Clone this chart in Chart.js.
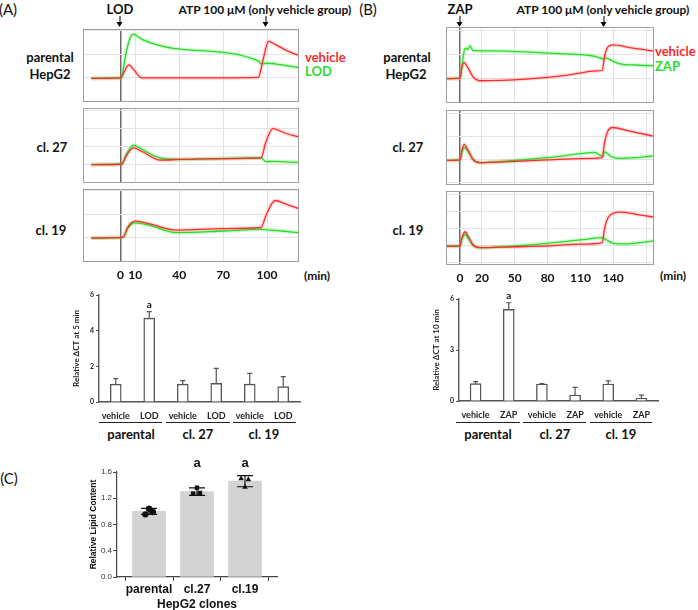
<!DOCTYPE html>
<html>
<head>
<meta charset="utf-8">
<script src="https://cdn.jsdelivr.net/npm/chart.js@4.4.1/dist/chart.umd.min.js"></script>
<style>
body{margin:0;width:698px;height:610px;overflow:hidden;background:#fff;position:relative;font-family:Lato,"Open Sans",sans-serif;color:#111}
canvas{position:absolute}
.t{position:absolute;white-space:nowrap;line-height:1;font-weight:bold;transform:translate(-50%,-50%)}
.l{position:absolute;white-space:nowrap;line-height:1;font-weight:bold;transform:translateY(-50%)}
.pl{position:absolute;font-size:15px;font-weight:normal;transform:translate(-50%,-50%);line-height:1}
.arr{position:absolute;width:0;height:8px;border-left:1.5px solid #000;transform:translateX(-50%)}
.arr:after{content:"";position:absolute;left:-4px;top:6px;border-left:3.3px solid transparent;border-right:3.3px solid transparent;border-top:5px solid #000}
.ul{position:absolute;height:0;border-top:1.5px solid #222}
</style>
</head>
<body>
<!-- panel A texts -->
<div class="pl" style="left:8px;top:9px">(A)</div>
<div class="t" style="left:120px;top:9px;font-size:13px">LOD</div>
<div class="arr" style="left:120px;top:16px"></div>
<div class="t" style="left:265px;top:10px;font-size:12px">ATP 100 μM (only vehicle group)</div>
<div class="arr" style="left:266px;top:16px"></div>
<div class="t" style="left:50px;top:57px;font-size:13px">parental</div>
<div class="t" style="left:50px;top:74px;font-size:13px">HepG2</div>
<div class="t" style="left:52px;top:147px;font-size:13px">cl. 27</div>
<div class="t" style="left:51px;top:230px;font-size:13px">cl. 19</div>
<div class="l" style="left:305px;top:57px;font-size:13px;color:#ff2a2a">vehicle</div>
<div class="l" style="left:305px;top:71px;font-size:13px;color:#2ddb2d">LOD</div>
<div class="t" style="left:317px;top:276px;font-size:12px">(min)</div>

<!-- panel B texts -->
<div class="pl" style="left:368px;top:9px">(B)</div>
<div class="t" style="left:460px;top:9px;font-size:13px">ZAP</div>
<div class="arr" style="left:460px;top:16px"></div>
<div class="t" style="left:603px;top:10px;font-size:12px">ATP 100 μM (only vehicle group)</div>
<div class="arr" style="left:604px;top:16px"></div>
<div class="t" style="left:407px;top:57px;font-size:13px">parental</div>
<div class="t" style="left:406px;top:74px;font-size:13px">HepG2</div>
<div class="t" style="left:408px;top:147px;font-size:13px">cl. 27</div>
<div class="t" style="left:408px;top:230px;font-size:13px">cl. 19</div>
<div class="l" style="left:655px;top:51px;font-size:13px;color:#ff2a2a">vehicle</div>
<div class="l" style="left:655px;top:66px;font-size:13px;color:#2ddb2d">ZAP</div>
<div class="t" style="left:673px;top:276px;font-size:12px">(min)</div>

<!-- bar group labels -->
<div class="ul" style="left:99px;width:63px;top:422px"></div>
<div class="ul" style="left:166px;width:64px;top:422px"></div>
<div class="ul" style="left:233px;width:63px;top:422px"></div>
<div class="t" style="left:131px;top:434px;font-size:13px">parental</div>
<div class="t" style="left:198px;top:434px;font-size:13px">cl. 27</div>
<div class="t" style="left:264px;top:434px;font-size:13px">cl. 19</div>
<div class="ul" style="left:456px;width:64px;top:422px"></div>
<div class="ul" style="left:523px;width:63px;top:422px"></div>
<div class="ul" style="left:590px;width:62px;top:422px"></div>
<div class="t" style="left:488px;top:434px;font-size:13px">parental</div>
<div class="t" style="left:555px;top:434px;font-size:13px">cl. 27</div>
<div class="t" style="left:621px;top:434px;font-size:13px">cl. 19</div>

<div class="pl" style="left:9px;top:478px">(C)</div>

<canvas id="a1" width="216" height="73" style="left:83px;top:29px"></canvas>
<canvas id="a2" width="216" height="75" style="left:83px;top:108px"></canvas>
<canvas id="a3" width="216" height="94" style="left:83px;top:189px"></canvas>
<canvas id="b1" width="208" height="76" style="left:446px;top:27px"></canvas>
<canvas id="b2" width="208" height="75" style="left:446px;top:110px"></canvas>
<canvas id="b3" width="208" height="95" style="left:446px;top:191px"></canvas>
<canvas id="barA" width="233" height="134" style="left:69px;top:286px"></canvas>
<canvas id="barB" width="231" height="129" style="left:429px;top:290px"></canvas>
<canvas id="barC" width="194" height="163" style="left:87px;top:450px"></canvas>

<script>
// LOD experiment (A): time in min, normalized cell index
var lodParVehT = [-20, 0, 2, 5.8, 9, 14.5, 40, 70, 94, 97, 101, 106, 112, 121.5];
var lodParVehY = [-0.02, 0, 0.2, 0.55, 0.35, 0, 0, 0, 0.02, 0.7, 1.55, 1.4, 1.2, 0.95];
var lodParLodT = [-20, 0, 1, 3, 6, 8.6, 15, 25, 36, 94, 96, 100, 110, 121.5];
var lodParLodY = [-0.02, 0, 0.05, 0.8, 1.6, 1.85, 1.62, 1.4, 1.25, 0.72, 0.6, 0.62, 0.55, 0.44];
var lod27VehT = [-20, 0, 1, 4, 8.8, 15, 27, 40, 70, 96, 99, 104, 112, 121.5];
var lod27VehY = [-0.02, 0, 0.02, 0.5, 0.92, 0.7, 0.23, 0.27, 0.32, 0.36, 1.2, 2.0, 1.75, 1.54];
var lod27LodT = [-20, 0, 1, 4, 8.7, 15, 27, 40, 70, 96, 99, 105, 121.5];
var lod27LodY = [-0.02, 0, 0.02, 0.55, 1.07, 0.82, 0.35, 0.27, 0.32, 0.36, 0.15, 0.16, 0.1];
var lod19VehT = [-20, 0, 2, 5, 10, 20, 38, 70, 96, 99, 105.5, 112, 121.5];
var lod19VehY = [-0.02, 0, 0.03, 0.45, 0.7, 0.58, 0.32, 0.38, 0.43, 0.9, 1.58, 1.45, 1.23];
var lod19LodT = [-20, 0, 2, 5, 10, 20, 38, 70, 96, 100, 110, 121.5];
var lod19LodY = [-0.02, 0, 0.03, 0.4, 0.63, 0.52, 0.21, 0.28, 0.35, 0.33, 0.28, 0.21];

// ZAP experiment (B)
var zapParVehT = [-12, 0, 1.5, 3.7, 7, 12, 18, 60, 100, 125, 130, 132, 135, 140, 155, 177];
var zapParVehY = [-0.02, 0, 0.4, 0.65, 0.45, 0.05, -0.11, -0.04, 0.14, 0.3, 0.33, 0.9, 1.3, 1.39, 1.28, 1.14];
var zapParZapT = [-12, 0, 2, 4.6, 7, 9, 12, 30, 80, 121, 128, 131, 133, 140, 146, 160, 177];
var zapParZapY = [-0.02, 0, 0.6, 1.25, 1.2, 1.35, 1.15, 1.14, 1.05, 0.93, 0.85, 0.8, 0.85, 0.7, 0.6, 0.55, 0.52];
var zap27VehT = [-12, 0, 1.5, 3.7, 7, 12, 18, 50, 80, 110, 130, 132, 135, 139, 155, 176];
var zap27VehY = [-0.02, 0, 0.35, 0.68, 0.45, 0.02, -0.12, -0.06, 0, 0.06, 0.1, 0.75, 1.25, 1.41, 1.25, 1.04];
var zap27ZapT = [-12, 0, 1.5, 3.7, 7, 12, 18, 50, 80, 110, 123, 130, 132, 138, 145, 160, 176];
var zap27ZapY = [-0.02, 0, 0.3, 0.54, 0.4, 0, -0.12, -0.02, 0.1, 0.27, 0.33, 0.17, 0.35, 0.15, 0.07, 0.1, 0.17];
var zap19VehT = [-12, 0, 1.5, 4.6, 8, 12, 18, 50, 80, 110, 130, 132, 136, 146, 160, 178];
var zap19VehY = [-0.02, 0, 0.4, 0.83, 0.5, 0.05, -0.1, -0.05, 0, 0.1, 0.19, 1.0, 1.73, 1.98, 1.87, 1.67];
var zap19ZapT = [-12, 0, 1.5, 4.6, 8, 12, 18, 50, 80, 110, 130, 132, 140, 150, 178];
var zap19ZapY = [-0.02, 0, 0.35, 0.67, 0.4, 0.02, -0.1, 0, 0.15, 0.35, 0.48, 0.42, 0.15, 0.12, 0.3];

// x grid / tick labels
var lodGrid = [0, 10, 40, 70, 100];
var lodTicks = [0, 10, 40, 70, 100];
var zapGrid = [0, 20, 50, 80, 110, 140, 170];
var zapTicks = [0, 20, 50, 80, 110, 140];

// relative dCT bars
var ctCatsA = ["vehicle", "LOD", "vehicle", "LOD", "vehicle", "LOD"];
var ctA = [1.0, 4.7, 1.0, 1.04, 1.0, 0.86];
var ctAErr = [0.31, 0.37, 0.2, 0.84, 0.6, 0.56];
var ctCatsB = ["vehicle", "ZAP", "vehicle", "ZAP", "vehicle", "ZAP"];
var ctB = [1.02, 5.39, 1.0, 0.35, 1.0, 0.16];
var ctBErr = [0.12, 0.39, 0.03, 0.45, 0.18, 0.19];
var sigCt = ["", "a", "", "", "", ""];

// lipid content (C)
var lipidCats = ["parental", "cl.27", "cl.19"];
var lipidMean = [1.0, 1.3, 1.46];
var lipidSd = [0.045, 0.057, 0.085];
var lipidSig = ["", "a", "a"];
var lipidPar = [1.04, 0.955, 0.99];
var lipid27 = [1.36, 1.27, 1.28];
var lipid19 = [1.5, 1.485, 1.37];
var jitPar = [0, -0.075, 0.08];
var jit27 = [0, -0.08, 0.06];
var jit19 = [-0.08, 0.07, 0];

var RED = "#ff2a2a", GREEN = "#26dc26";

var framePlugin = {
  id: "frame",
  afterDraw: function (chart) {
    var a = chart.chartArea, c = chart.ctx;
    c.save();
    c.strokeStyle = "#a0a0a0";
    c.lineWidth = 1;
    c.strokeRect(a.left + 0.5, a.top + 0.5, a.right - a.left - 1, a.bottom - a.top - 1);
    c.restore();
  }
};

var errPlugin = {
  id: "err",
  afterDatasetsDraw: function (chart) {
    var c = chart.ctx, ys = chart.scales.y;
    chart.data.datasets.forEach(function (ds, di) {
      if (!ds.errs) return;
      chart.getDatasetMeta(di).data.forEach(function (el, i) {
        var v = typeof ds.data[i] === "number" ? ds.data[i] : ds.data[i].y;
        var top = ys.getPixelForValue(v + ds.errs[i]);
        var bot = ys.getPixelForValue(ds.both ? v - ds.errs[i] : v);
        c.save();
        c.strokeStyle = ds.errColor;
        c.lineWidth = 1.2;
        c.beginPath();
        c.moveTo(el.x, top); c.lineTo(el.x, bot);
        c.moveTo(el.x - ds.capW, top); c.lineTo(el.x + ds.capW, top);
        if (ds.both) { c.moveTo(el.x - ds.capW, bot); c.lineTo(el.x + ds.capW, bot); }
        c.stroke();
        if (ds.marks && ds.marks[i]) {
          c.fillStyle = "#111";
          c.font = ds.markFont;
          c.textAlign = "center";
          c.textBaseline = "alphabetic";
          c.fillText(ds.marks[i], el.x, ds.markTop ? chart.chartArea.top - 5 : top - 4);
        }
        c.restore();
      });
    });
  }
};

function pts(t, y) {
  return t.map(function (v, i) { return { x: v, y: y[i] }; });
}

function traceChart(id, vT, vY, gT, gY, yr, xr, grid, labels) {
  var vd = pts(vT, vY), gd = pts(gT, gY);
  new Chart(document.getElementById(id), {
    type: "line",
    data: {
      datasets: [
        { data: vd, borderColor: RED, borderWidth: 1.3, order: 0 },
        { data: gd, borderColor: GREEN, borderWidth: 1.3, order: 1 },
        { data: vd, borderColor: "rgba(255,100,100,0.22)", borderWidth: 4, order: 2 },
        { data: gd, borderColor: "rgba(80,230,80,0.25)", borderWidth: 4, order: 3 }
      ]
    },
    options: {
      animation: false, responsive: false, events: [],
      elements: { point: { radius: 0 }, line: { cubicInterpolationMode: "monotone" } },
      layout: { padding: 0 },
      plugins: { legend: { display: false }, tooltip: { enabled: false } },
      scales: {
        x: {
          type: "linear", min: xr[0], max: xr[1],
          afterBuildTicks: function (s) { s.ticks = grid.map(function (v) { return { value: v }; }); },
          afterFit: function (s) { s.height = labels ? 21 : 0; },
          grid: {
            drawTicks: false,
            color: function (c) { return c.tick && c.tick.value === 0 ? "#6a6a6a" : "#e2e2e2"; },
            lineWidth: function (c) { return c.tick && c.tick.value === 0 ? 1.5 : 1; }
          },
          border: { display: false },
          ticks: {
            display: !!labels, padding: 6, autoSkip: false, maxRotation: 0, color: "#111",
            font: { size: 12, weight: "bold" },
            callback: function (v) { return labels && labels.indexOf(v) >= 0 ? String(v) : ""; }
          }
        },
        y: {
          min: yr[0], max: yr[1],
          afterBuildTicks: function (s) {
            s.ticks = [-1, 0, 1, 2, 3].filter(function (v) { return v > yr[0] && v < yr[1]; })
              .map(function (v) { return { value: v }; });
          },
          afterFit: function (s) { s.width = 0; },
          grid: { color: "#e4e4e4", drawTicks: false },
          border: { display: false },
          ticks: { display: false }
        }
      }
    },
    plugins: [framePlugin]
  });
}

Chart.defaults.font.family = "Lato, 'Open Sans', sans-serif";

traceChart("a1", lodParVehT, lodParVehY, lodParLodT, lodParLodY, [-1.02, 2.07], [-25.6, 121.8], lodGrid, null);
traceChart("a2", lod27VehT, lod27VehY, lod27LodT, lod27LodY, [-1.05, 3.15], [-25.6, 121.8], lodGrid, null);
traceChart("a3", lod19VehT, lod19VehY, lod19LodT, lod19LodY, [-1.04, 2.07], [-25.6, 121.8], lodGrid, lodTicks);
traceChart("b1", zapParVehT, zapParVehY, zapParZapT, zapParZapY, [-1.04, 2.14], [-12.8, 177.2], zapGrid, null);
traceChart("b2", zap27VehT, zap27VehY, zap27ZapT, zap27ZapY, [-1.09, 2.17], [-12.8, 177.2], zapGrid, null);
traceChart("b3", zap19VehT, zap19VehY, zap19ZapT, zap19ZapY, [-1.12, 3.22], [-12.8, 177.2], zapGrid, zapTicks);

function ctChart(id, cats, vals, errs, step, title, padTop) {
  new Chart(document.getElementById(id), {
    type: "bar",
    data: {
      labels: cats,
      datasets: [{
        data: vals, errs: errs, marks: sigCt, errColor: "#555", capW: 2.5,
        markFont: "bold 10px Lato, sans-serif",
        backgroundColor: "#fff", borderColor: "#555", borderWidth: 1.4, barThickness: 11
      }]
    },
    options: {
      animation: false, responsive: false, events: [],
      layout: { padding: { top: padTop, right: 2 } },
      plugins: { legend: { display: false }, tooltip: { enabled: false } },
      scales: {
        x: {
          grid: { display: false, drawTicks: false },
          border: { color: "#555", width: 1.4 },
          afterFit: function (s) { s.height = 18; },
          ticks: { padding: 9, color: "#222", maxRotation: 0, font: { size: 9, weight: "bold" } }
        },
        y: {
          min: 0, max: 6,
          afterFit: function (s) { s.width = 30; },
          ticks: { stepSize: step, padding: 2, color: "#222", font: { size: 7, weight: "bold" } },
          grid: { drawOnChartArea: false, tickLength: 3, color: "#555" },
          border: { color: "#555", width: 1.4 },
          title: { display: true, text: title, color: "#222", font: { size: 8, weight: "bold" }, padding: { top: 3, bottom: 0 } }
        }
      }
    },
    plugins: [errPlugin]
  });
}

ctChart("barA", ctCatsA, ctA, ctAErr, 2, "Relative ΔCT at 5 min", 9);
ctChart("barB", ctCatsB, ctB, ctBErr, 3, "Relative ΔCT at 10 min", 9);

function dots(vals, jit, idx, style) {
  return {
    type: "scatter",
    data: vals.map(function (v, i) { return { x: idx + jit[i], y: v }; }),
    pointStyle: style, pointRadius: 3.2, backgroundColor: "#111", borderColor: "#111", borderWidth: 0, order: 0
  };
}

new Chart(document.getElementById("barC"), {
  type: "bar",
  data: {
    datasets: [
      {
        data: lipidMean.map(function (v, i) { return { x: i, y: v }; }),
        errs: lipidSd, both: true, marks: lipidSig, markTop: true, errColor: "#111", capW: 8,
        markFont: "bold 13px 'Liberation Sans', Arial, sans-serif",
        backgroundColor: "#d3d3d3", barThickness: 33, order: 1
      },
      dots(lipidPar, jitPar, 0, "circle"),
      dots(lipid27, jit27, 1, "rect"),
      dots(lipid19, jit19, 2, "triangle")
    ]
  },
  options: {
    animation: false, responsive: false, events: [],
    font: { family: "'Liberation Sans', Arial, sans-serif" },
    layout: { padding: { top: 22, right: 4 } },
    plugins: { legend: { display: false }, tooltip: { enabled: false } },
    scales: {
      x: {
        type: "linear", min: -0.667, max: 2.667, offset: false,
        afterBuildTicks: function (s) { s.ticks = [0, 1, 2].map(function (v) { return { value: v }; }); },
        afterFit: function (s) { s.height = 36; },
        grid: { drawOnChartArea: false, tickLength: 4, color: "#444" },
        border: { color: "#444", width: 1.2 },
        ticks: {
          padding: 1, color: "#111", maxRotation: 0, autoSkip: false,
          font: { family: "'Liberation Sans', Arial, sans-serif", size: 12, weight: "bold" },
          callback: function (v) { return lipidCats[v]; }
        },
        title: {
          display: true, text: "HepG2 clones", color: "#111", padding: { top: 2, bottom: 1 },
          font: { family: "'Liberation Sans', Arial, sans-serif", size: 12, weight: "bold" }
        }
      },
      y: {
        min: 0, max: 1.6,
        afterFit: function (s) { s.width = 30; },
        ticks: {
          stepSize: 0.4, padding: 1, color: "#333",
          font: { family: "'Liberation Sans', Arial, sans-serif", size: 8 },
          callback: function (v) { return v.toFixed(1); }
        },
        grid: { drawOnChartArea: false, tickLength: 4, color: "#444" },
        border: { color: "#444", width: 1.2 },
        title: {
          display: true, text: "Relative Lipid Content", color: "#111", padding: { top: 2, bottom: 0 },
          font: { family: "'Liberation Sans', Arial, sans-serif", size: 8.5, weight: "bold" }
        }
      }
    }
  },
  plugins: [errPlugin]
});
</script>
</body>
</html>
